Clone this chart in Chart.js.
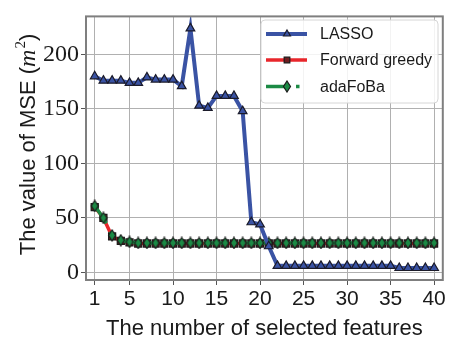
<!DOCTYPE html>
<html>
<head>
<meta charset="utf-8">
<script src="https://cdn.jsdelivr.net/npm/chart.js@4.4.1/dist/chart.umd.min.js"></script>
<style>
  html, body { margin: 0; padding: 0; background: #fff; }
  #wrap { width: 449px; height: 343px; }
</style>
</head>
<body>
<div id="wrap"><canvas id="mse-chart" width="449" height="343"></canvas></div>
<script>
// number of selected features (x axis)
const featureCounts = [1, 2, 3, 4, 5, 6, 7, 8, 9, 10, 11, 12, 13, 14, 15, 16, 17, 18, 19, 20,
    21, 22, 23, 24, 25, 26, 27, 28, 29, 30, 31, 32, 33, 34, 35, 36, 37, 38, 39, 40];
const lassoMse = [180, 176, 176, 176, 174, 174, 179, 177, 177, 177, 171, 224, 153, 151, 162, 162, 162, 148, 46, 44,
    24, 6, 6, 6, 6, 6, 6, 6, 6, 6, 6, 6, 6, 6, 6, 4, 4, 4, 4, 4];
const forwardGreedyMse = [60, 50, 33, 29, 27.5, 26.5, 26.5, 26.5, 26.5, 26.5, 26.5, 26.5, 26.5, 26.5, 26.5, 26.5, 26.5, 26.5, 26.5, 26.5,
    26.5, 26.5, 26.5, 26.5, 26.5, 26.5, 26.5, 26.5, 26.5, 26.5, 26.5, 26.5, 26.5, 26.5, 26.5, 26.5, 26.5, 26.5, 26.5, 26.5];
const adaFoBaMse = [61, 50, 34, 29.5, 28, 27, 27, 27, 27, 27, 27, 27, 27, 27, 27, 27, 27, 27, 27, 27,
    27, 27, 27, 27, 27, 27, 27, 27, 27, 27, 27, 27, 27, 27, 27, 27, 27, 27, 27, 27];
const xTickValues = [1, 5, 10, 15, 20, 25, 30, 35, 40];
const yTickValues = [0, 50, 100, 150, 200];
const seriesNames = ['LASSO', 'Forward greedy', 'adaFoBa'];

function points(values) {
    return featureCounts.map(function (x, i) { return { x: x, y: values[i] }; });
}

// thin diamond marker like matplotlib 'd'
function thinDiamond(fill) {
    const c = document.createElement('canvas');
    c.width = 10; c.height = 13;
    const g = c.getContext('2d');
    g.beginPath();
    g.moveTo(5, 1); g.lineTo(8.5, 6.5); g.lineTo(5, 12); g.lineTo(1.5, 6.5); g.closePath();
    g.fillStyle = fill; g.fill();
    g.lineWidth = 1.2; g.strokeStyle = '#1b1b1b'; g.stroke();
    return c;
}
const diamondImg = thinDiamond('#1c8a45');

const serifFont = '"Liberation Serif", "DejaVu Serif", serif';
const sansFont = '"Liberation Sans", "DejaVu Sans", sans-serif';

const framePlugin = {
    id: 'frame',
    afterDatasetsDraw: function (chart) {
        const a = chart.chartArea;
        const ctx = chart.ctx;
        ctx.save();
        ctx.strokeStyle = '#7f7f7f';
        ctx.lineWidth = 2;
        ctx.strokeRect(a.left, a.top, a.right - a.left, a.bottom - a.top);
        ctx.restore();
    }
};

const titlesPlugin = {
    id: 'titles',
    afterDraw: function (chart) {
        const ctx = chart.ctx;
        const a = chart.chartArea;
        ctx.save();
        ctx.fillStyle = '#1a1a1a';
        ctx.textBaseline = 'alphabetic';
        // x title
        ctx.font = '22px ' + sansFont;
        ctx.textAlign = 'center';
        ctx.fillText('The number of selected features', (a.left + a.right) / 2, 335);
        // y title with math m^2
        const parts = [
            { t: 'The value of MSE (', f: '22px ' + sansFont, dy: 0 },
            { t: 'm', f: 'italic 24px ' + serifFont, dy: 0 },
            { t: '2', f: '15px ' + serifFont, dy: -10 },
            { t: ')', f: '22px ' + sansFont, dy: 0 }
        ];
        let total = 0;
        parts.forEach(function (p) { ctx.font = p.f; p.w = ctx.measureText(p.t).width; total += p.w; });
        ctx.translate(35, 145);
        ctx.rotate(-Math.PI / 2);
        ctx.textAlign = 'left';
        let x = -total / 2;
        parts.forEach(function (p) { ctx.font = p.f; ctx.fillText(p.t, x, p.dy); x += p.w + (p.t === 'm' ? 1 : 0); });
        ctx.restore();
    }
};

const legendPlugin = {
    id: 'boxLegend',
    afterDraw: function (chart) {
        const ctx = chart.ctx;
        const box = { x: 261, y: 20, w: 177, h: 83 };
        ctx.save();
        ctx.beginPath();
        ctx.roundRect(box.x, box.y, box.w, box.h, 4);
        ctx.fillStyle = 'rgba(255,255,255,0.85)';
        ctx.fill();
        ctx.strokeStyle = '#d6d6d6';
        ctx.lineWidth = 1;
        ctx.stroke();
        const rows = [34, 60, 86.5];
        seriesNames.forEach(function (name, i) {
            const ds = chart.data.datasets.find(function (d) { return d.label === name; });
            const y = rows[i];
            ctx.save();
            ctx.strokeStyle = ds.borderColor;
            ctx.lineWidth = ds.borderWidth;
            ctx.setLineDash(ds.borderDash || []);
            ctx.beginPath();
            ctx.moveTo(266, y);
            ctx.lineTo(ds.borderDash ? 302 : 307, y);
            ctx.stroke();
            ctx.restore();
            ctx.fillStyle = ds.pointBackgroundColor;
            ctx.strokeStyle = ds.pointBorderColor;
            ctx.lineWidth = ds.pointBorderWidth;
            Chart.helpers.drawPoint(ctx, { pointStyle: ds.pointStyle, radius: 4, rotation: 0, borderWidth: ds.pointBorderWidth }, 287, y);
            ctx.fillStyle = '#1a1a1a';
            ctx.font = '16px ' + sansFont;
            ctx.textAlign = 'left';
            ctx.textBaseline = 'middle';
            ctx.fillText(ds.label, 320, y + 1);
        });
        ctx.restore();
    }
};

new Chart(document.getElementById('mse-chart'), {
    type: 'line',
    data: {
        datasets: [
            {
                label: seriesNames[0],
                data: points(lassoMse),
                order: 0,
                borderColor: '#3a53a4',
                borderWidth: 4,
                pointStyle: 'triangle',
                pointRadius: 5,
                pointBackgroundColor: '#3a53a4',
                pointBorderColor: '#1b1b2a',
                pointBorderWidth: 1.2
            },
            {
                label: seriesNames[1],
                data: points(forwardGreedyMse),
                order: 2,
                borderColor: '#e8262b',
                borderWidth: 3.5,
                pointStyle: 'rect',
                pointRadius: 5,
                pointBackgroundColor: '#6e1d1f',
                pointBorderColor: '#1b1b1b',
                pointBorderWidth: 1.2
            },
            {
                label: seriesNames[2],
                data: points(adaFoBaMse),
                order: 1,
                borderColor: '#1c8a45',
                borderWidth: 3.5,
                borderDash: [21, 9, 3.5, 9],
                pointStyle: diamondImg,
                pointRadius: 5,
                pointBackgroundColor: '#1c8a45',
                pointBorderColor: '#1b1b1b',
                pointBorderWidth: 1.2
            }
        ]
    },
    options: {
        responsive: false,
        animation: false,
        layout: { padding: { top: 10, right: 2, left: 0, bottom: 0 } },
        plugins: { legend: { display: false }, tooltip: { enabled: false } },
        scales: {
            x: {
                type: 'linear',
                min: 0,
                max: 41,
                afterBuildTicks: function (scale) { scale.ticks = xTickValues.map(function (v) { return { value: v }; }); },
                afterFit: function (scale) { scale.height = 63; },
                grid: { color: '#b0b0b0', lineWidth: 1, tickLength: 5, tickColor: '#555' },
                border: { display: false },
                ticks: { color: '#1a1a1a', font: { family: sansFont, size: 21 }, padding: 2, maxRotation: 0, autoSkip: false }
            },
            y: {
                min: -7,
                max: 235,
                afterBuildTicks: function (scale) { scale.ticks = yTickValues.map(function (v) { return { value: v }; }); },
                afterFit: function (scale) { scale.width = 86; },
                grid: { color: '#b0b0b0', lineWidth: 1, tickLength: 5, tickColor: '#555' },
                border: { display: false },
                ticks: { color: '#1a1a1a', font: { family: serifFont, size: 24 }, padding: 2 }
            }
        }
    },
    plugins: [framePlugin, titlesPlugin, legendPlugin]
});
</script>
</body>
</html>
